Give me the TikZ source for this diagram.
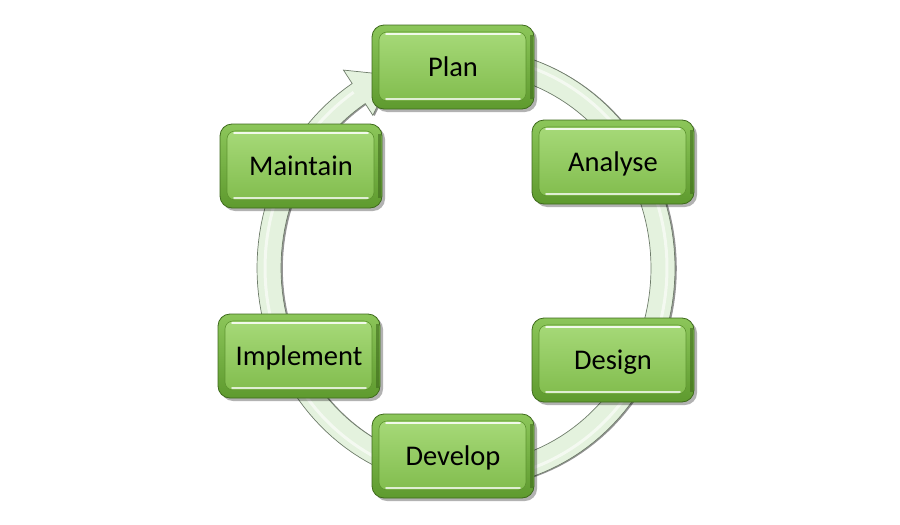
\documentclass[tikz,border=0pt]{standalone}
\usepackage{fontspec}
\setmainfont{Carlito}
\definecolor{frameT}{HTML}{8CC65A}
\definecolor{frameB}{HTML}{5E9A2E}
\definecolor{frameD}{HTML}{3E6A1C}
\definecolor{faceT}{HTML}{A6D978}
\definecolor{faceB}{HTML}{82BD4E}
\definecolor{faceD}{HTML}{5E9530}
\definecolor{ringfill}{HTML}{E4F2DE}
\definecolor{ringedge}{HTML}{6E7C6A}
\tikzset{
  box/.style={rounded corners=12pt, minimum width=162pt, minimum height=84pt,
    inner sep=0pt, top color=frameT, bottom color=frameB, draw=frameD, line width=0.8pt,
    font=\fontsize{28.5}{34}\selectfont, text=black, text height=18pt, text depth=0pt,
    preaction={fill=black, opacity=0.3, transform canvas={shift={(3pt,-3pt)}}},
    path picture={
      \draw[frameD, line width=3pt, opacity=0.6]
        ([shift={(-3pt,-10pt)}]path picture bounding box.north east) --
        ([shift={(-3pt,10pt)}]path picture bounding box.south east);
      \shade[top color=faceT, bottom color=faceB, draw=faceD, line width=0.6pt, rounded corners=8pt]
        ([shift={(7pt,-7pt)}]path picture bounding box.north west) rectangle
        ([shift={(-8pt,8pt)}]path picture bounding box.south east);
      \draw[white, line width=1.6pt, opacity=0.85, line cap=round]
        ([shift={(14pt,-9pt)}]path picture bounding box.north west) --
        ([shift={(-14pt,-9pt)}]path picture bounding box.north east);
      \draw[white, line width=1.6pt, opacity=0.75, line cap=round]
        ([shift={(14pt,10pt)}]path picture bounding box.south west) --
        ([shift={(-14pt,10pt)}]path picture bounding box.south east);
    }},
  ringband/.style={fill=ringfill, draw=ringedge, line width=0.7pt,
    preaction={fill=black!70, opacity=0.6, transform canvas={shift={(1.8pt,-0.6pt)}}}}
}
\begin{document}
\begin{tikzpicture}[x=1pt,y=-1pt]
\useasboundingbox (0,0) rectangle (900,525);
% ring arrow
\def\cx{466}\def\cy{268}
\path[ringband]
  plot[domain=-80:237,samples=140] ({\cx+209*cos(\x)},{\cy+220*sin(\x)})
  -- ({\cx+225*cos(237)},{\cy+236*sin(237)})
  -- ({\cx+197*cos(248)},{\cy+208*sin(248)})
  -- ({\cx+171*cos(237)},{\cy+182*sin(237)})
  -- plot[domain=237:-80,samples=140] ({\cx+185*cos(\x)},{\cy+196*sin(\x)})
  -- cycle;
\draw[white, line width=3pt, opacity=0.6]
  plot[domain=-80:236,samples=140] ({\cx+201*cos(\x)},{\cy+212*sin(\x)});
% boxes
\node[box] (plan) at (453,67) {Plan};
\node[box] (analyse) at (613,162) {Analyse};
\node[box] (design) at (613,360) {Design};
\node[box] (develop) at (453,456) {Develop};
\node[box] (implement) at (299,356) {Implement};
\node[box] (maintain) at (301,166) {Maintain};
\end{tikzpicture}
\end{document}
